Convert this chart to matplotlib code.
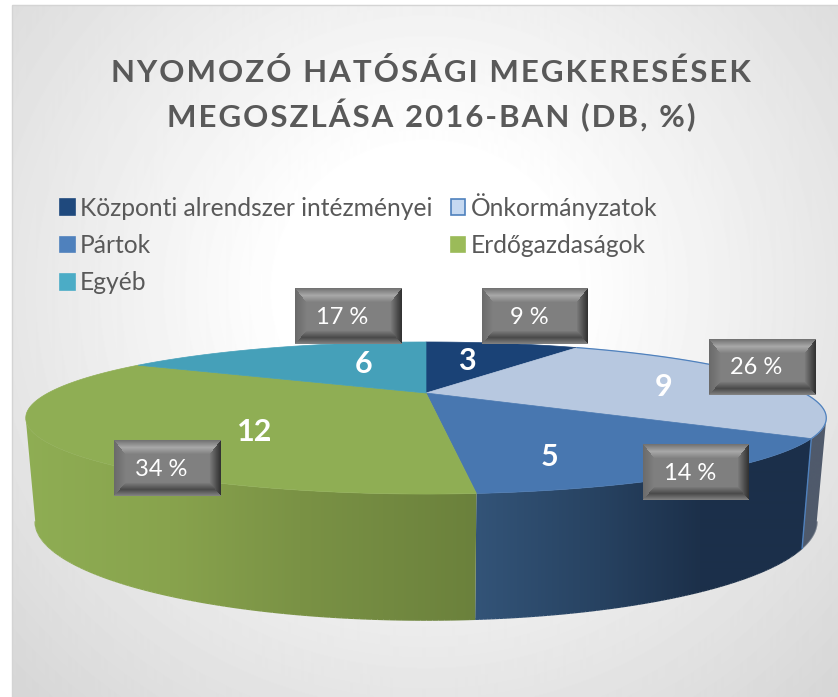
"""
Recreation of the 3D pie chart of investigative authority requests, 2016
"""

import matplotlib

matplotlib.use("Agg")
import matplotlib.pyplot as plt
import numpy as np
from matplotlib.collections import LineCollection
from matplotlib.colors import to_rgb
from matplotlib.patches import Patch, Polygon, Rectangle

categories = [
    "Központi alrendszer intézményei",
    "Önkormányzatok",
    "Pártok",
    "Erdőgazdaságok",
    "Egyéb",
]
values = [3, 9, 5, 12, 6]
percent_labels = ["9 %", "26 %", "14 %", "34 %", "17 %"]
title_lines = ["NYOMOZÓ HATÓSÁGI MEGKERESÉSEK", "MEGOSZLÁSA 2016-BAN (DB, %)"]

top_colours = ["#1a4276", "#b7c8e0", "#4877b0", "#8fae54", "#45a0b9"]
legend_colours = ["#1f497d", "#c6d9f1", "#4f81bd", "#9bbb59", "#4bacc6"]

# where the value and percentage labels sit, in order of categories
value_positions = [(467, 361), (664, 387), (550, 457), (255, 432), (364, 364)]
box_corners = [(482, 288), (709, 339), (643, 444), (114, 440), (295, 288)]
box_width, box_height = 106, 56

# shading of each visible wall, (pixel x, colour) from left to right
green_wall = [(20, "#8fae54"), (170, "#88a34d"), (300, "#7a9245"), (476, "#6b813c")]
blue_wall = [(475, "#335478"), (600, "#274261"), (700, "#1c304a"), (810, "#1b2f4a")]
grey_wall = [(790, "#4f5a6b"), (830, "#4f5a6b")]

# angle where the perspective disc is widest, the wall ends there
silhouette = np.arccos(-0.329)

fig = plt.figure(figsize=(8.38, 6.97), dpi=100)
ax = fig.add_axes([0, 0, 1, 1])


def project(theta, centre_y, scale_y, radius):
    """Perspective view of a point on a pie disc, theta clockwise from the top"""
    depth = 1 + 0.329 * np.cos(theta)
    x = 426 + radius * np.sin(theta) / depth
    y = (centre_y + scale_y * np.cos(theta)) / depth
    return x, y


def top_face(theta):
    return project(theta, 393, 61.5, 378)


def bottom_face(theta):
    return project(theta, 489, 73, 369)


def shade(x, stops):
    rgb = np.array([to_rgb(s[1]) for s in stops])
    xs = [s[0] for s in stops]
    return np.stack([np.interp(x, xs, rgb[:, i]) for i in range(3)], axis=-1)


def draw_wall(theta0, theta1, stops):
    """Rim of the pie between two angles, shaded sideways and clipped to shape"""
    t = np.linspace(theta0, theta1, 120)
    x0, y0 = top_face(t)
    x1, y1 = bottom_face(t)
    outline = Polygon(
        list(zip(x0, y0)) + list(zip(x1[::-1], y1[::-1])),
        transform=ax.transData,
        facecolor="none",
        edgecolor="none",
    )
    ax.add_patch(outline)
    left, right = stops[0][0], stops[-1][0]
    columns = np.arange(left, right + 1)
    image = ax.imshow(
        shade(columns, stops)[np.newaxis, :, :],
        extent=(left, right, 697, 300),
        aspect="auto",
        interpolation="bilinear",
        zorder=1,
    )
    image.set_clip_path(outline)
    # clip paths are not antialiased, so soften the lower edge with a line
    points = np.column_stack([x1, y1])
    segments = np.stack([points[:-1], points[1:]], axis=1)
    ax.add_collection(
        LineCollection(
            segments,
            colors=shade((x1[:-1] + x1[1:]) / 2, stops),
            linewidths=1.2,
            zorder=1,
        )
    )


def bevel_image(width, height):
    """Grey picture of a bevelled button, outer edge dark, flat middle"""
    image = np.full((height, width), 0.50)
    for row in range(height):
        for col in range(width):
            # scale so the bevel is a little deeper at top and bottom
            edges = [
                row / 14,
                (height - 1 - row) / 13,
                col / 11,
                (width - 1 - col) / 11,
            ]
            nearest = int(np.argmin(edges))
            t = edges[nearest]
            if t >= 1:
                continue
            if nearest == 0:
                image[row, col] = np.interp(t, [0, 0.5, 1], [0.45, 0.66, 0.50])
            elif nearest == 1:
                image[row, col] = np.interp(t, [0, 0.45, 1], [0.50, 0.29, 0.50])
            elif nearest == 2:
                image[row, col] = np.interp(t, [0, 1], [0.42, 0.50])
            else:
                image[row, col] = np.interp(t, [0, 0.35, 1], [0.20, 0.30, 0.50])
    return image


# Background, white page on the left with a radial grey fill for the chart
yy, xx = np.mgrid[0:697, 0:838]
r = np.hypot((xx - 425) / 413, (yy - 290) / 400)
background = 1 - 0.16 * np.clip((r - 0.35) / (1.41 - 0.35), 0, 1)
background[:, :12] = 1
background[:5, :] = 1
ax.imshow(background, cmap="gray", vmin=0, vmax=1, extent=(0, 838, 697, 0), aspect="auto")
ax.add_patch(
    Rectangle((12, 5), 830, 700, facecolor="none", edgecolor="#d4d4d4", linewidth=1)
)

edges = np.concatenate([[0], np.cumsum(values)]) / np.sum(values) * 2 * np.pi

# Walls, only the light, mid blue and green slices show theirs
draw_wall(silhouette, edges[2], grey_wall)
draw_wall(edges[2], edges[3], blue_wall)
draw_wall(edges[3], 2 * np.pi - silhouette, green_wall)

# blue line down the corner between the light slice and the next one
corner = edges[2]
ax.plot(
    [top_face(corner)[0], bottom_face(corner)[0]],
    [top_face(corner)[1], bottom_face(corner)[1]],
    color="#4f81bd",
    linewidth=1,
    zorder=1.5,
)

# Top of the pie
for i, colour in enumerate(top_colours):
    t = np.linspace(edges[i], edges[i + 1], 80)
    x, y = top_face(t)
    ax.add_patch(
        Polygon(
            [(426, 393)] + list(zip(x, y)),
            facecolor=colour,
            edgecolor=colour,
            linewidth=0.5,
            zorder=2,
        )
    )
# blue rim of the light slice
t = np.linspace(edges[1], edges[2], 80)
ax.plot(*top_face(t), color="#4f81bd", linewidth=0.9, zorder=2)

# Buttons with the percentages
bevel = bevel_image(box_width, box_height)
for (left, top), label in zip(box_corners, percent_labels):
    ax.imshow(
        bevel,
        cmap="gray",
        vmin=0,
        vmax=1,
        extent=(left, left + box_width, top + box_height, top),
        aspect="auto",
        zorder=3,
    )
    ax.text(
        left + box_width / 2 - 6,
        top + box_height / 2 + 1,
        label,
        color="white",
        fontsize=17,
        family="Lato",
        ha="center",
        va="center",
        zorder=4,
    )

for (x, y), value in zip(value_positions, values):
    ax.text(
        x,
        y,
        str(value),
        color="white",
        fontsize=22,
        fontweight="bold",
        family="Lato",
        ha="center",
        va="center",
        zorder=4,
    )

# Title, hair spaces stand in for the letter spacing
for line, y in zip(title_lines, [73, 115]):
    ax.text(
        431,
        y,
        "\u200a".join(line),
        color="#595959",
        fontsize=22.5,
        fontweight="bold",
        family=["Lato", "DejaVu Sans"],
        ha="center",
        va="center",
    )

# Legend is filled by column, so reorder to read across the rows
order = [0, 2, 4, 1, 3]
handles = []
for i in order:
    edge = "#4f81bd" if i == 1 else legend_colours[i]
    handles.append(
        Patch(
            facecolor=legend_colours[i],
            edgecolor=edge,
            linewidth=1.2,
            label=categories[i],
        )
    )
ax.legend(
    handles=handles,
    ncol=2,
    loc="upper left",
    bbox_to_anchor=(60 / 838, 1 - 193 / 697),
    frameon=False,
    prop={"family": "Lato", "size": 17.7},
    labelcolor="#595959",
    handlelength=0.6,
    handleheight=0.6,
    handletextpad=0.2,
    labelspacing=0.58,
    columnspacing=0.76,
    borderpad=0,
    borderaxespad=0,
)

ax.set_xlim(0, 838)
ax.set_ylim(697, 0)
ax.axis("off")

fig.savefig("out.png", dpi=100)
